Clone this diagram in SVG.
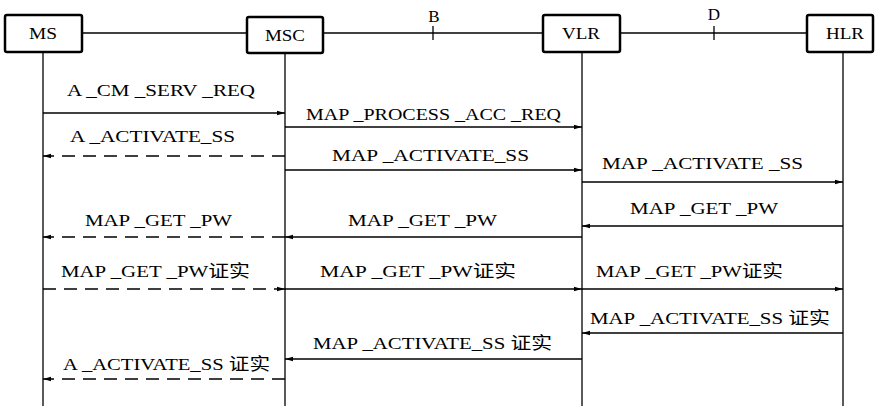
<svg xmlns="http://www.w3.org/2000/svg" width="875" height="406" viewBox="0 0 875 406">
<style>
.box{fill:#fff;stroke:#000;stroke-width:2.5}
.life{stroke:#000;stroke-width:1.3;fill:none}
.msg{stroke:#000;stroke-width:1.3;fill:none}
.dash{stroke-dasharray:13 8}
text{font-family:"Liberation Serif","Noto Sans CJK SC",serif;font-size:17px;fill:#000}
.lbl{text-anchor:middle}
</style>
<defs>
<marker id="ah" viewBox="0 0 8 6" refX="8" refY="3" markerWidth="8" markerHeight="6" markerUnits="userSpaceOnUse" orient="auto">
<path d="M0,0.8 L8,3 L0,5.2 Z" fill="#000"/>
</marker>
</defs>
<g id="lifelines">
<line class="life" x1="43" y1="52" x2="43" y2="406"/>
<line class="life" x1="285" y1="52" x2="285" y2="406"/>
<line class="life" x1="582" y1="52" x2="582" y2="406"/>
<line class="life" x1="843" y1="52" x2="843" y2="406"/>
</g>
<g id="interfaces">
<line class="life" x1="82" y1="33" x2="247" y2="33"/>
<line class="life" x1="323" y1="33" x2="543" y2="33"/>
<line class="life" x1="433" y1="26" x2="433" y2="40"/>
<text class="lbl" x="434" y="22">B</text>
<line class="life" x1="620" y1="33" x2="807" y2="33"/>
<line class="life" x1="714" y1="26" x2="714" y2="40"/>
<text class="lbl" x="714" y="20">D</text>
</g>
<g id="MS"><rect class="box" x="5" y="15" width="77" height="37" rx="2"/><text class="lbl" x="43" y="39" textLength="28" lengthAdjust="spacingAndGlyphs">MS</text></g>
<g id="MSC"><rect class="box" x="247" y="17" width="76" height="36" rx="2"/><text class="lbl" x="285" y="41" textLength="40" lengthAdjust="spacingAndGlyphs">MSC</text></g>
<g id="VLR"><rect class="box" x="543" y="15" width="77" height="37" rx="2"/><text class="lbl" x="581" y="39" textLength="38" lengthAdjust="spacingAndGlyphs">VLR</text></g>
<g id="HLR"><rect class="box" x="807" y="15" width="66" height="37" rx="2"/><text class="lbl" x="845" y="39" textLength="38" lengthAdjust="spacingAndGlyphs">HLR</text></g>
<g id="connectors">
<line class="msg" x1="43" y1="113" x2="285" y2="113" marker-end="url(#ah)"/>
<line class="msg" x1="285" y1="127" x2="582" y2="127" marker-end="url(#ah)"/>
<line class="msg dash" x1="285" y1="156" x2="43" y2="156" marker-end="url(#ah)"/>
<line class="msg" x1="285" y1="170" x2="582" y2="170" marker-end="url(#ah)"/>
<line class="msg" x1="582" y1="182" x2="843" y2="182" marker-end="url(#ah)"/>
<line class="msg" x1="843" y1="226" x2="582" y2="226" marker-end="url(#ah)"/>
<line class="msg" x1="582" y1="237" x2="285" y2="237" marker-end="url(#ah)"/>
<line class="msg dash" x1="285" y1="237" x2="43" y2="237" marker-end="url(#ah)"/>
<line class="msg dash" x1="43" y1="289" x2="285" y2="289" marker-end="url(#ah)"/>
<line class="msg" x1="285" y1="289" x2="582" y2="289" marker-end="url(#ah)"/>
<line class="msg" x1="582" y1="289" x2="843" y2="289" marker-end="url(#ah)"/>
<line class="msg" x1="843" y1="333" x2="582" y2="333" marker-end="url(#ah)"/>
<line class="msg" x1="582" y1="359" x2="285" y2="359" marker-end="url(#ah)"/>
<line class="msg dash" x1="285" y1="379" x2="43" y2="379" marker-end="url(#ah)"/>
</g>
<g id="labels">
<text x="67" y="96" textLength="188" lengthAdjust="spacingAndGlyphs">A _CM _SERV _REQ</text>
<text x="306" y="120" textLength="255" lengthAdjust="spacingAndGlyphs">MAP _PROCESS _ACC _REQ</text>
<text x="70" y="142" textLength="165" lengthAdjust="spacingAndGlyphs">A _ACTIVATE_SS</text>
<text x="332" y="161" textLength="197" lengthAdjust="spacingAndGlyphs">MAP _ACTIVATE_SS</text>
<text x="602" y="169" textLength="201" lengthAdjust="spacingAndGlyphs">MAP _ACTIVATE _SS</text>
<text x="630" y="214" textLength="148" lengthAdjust="spacingAndGlyphs">MAP _GET _PW</text>
<text x="348" y="226" textLength="149" lengthAdjust="spacingAndGlyphs">MAP _GET _PW</text>
<text x="85" y="226" textLength="147" lengthAdjust="spacingAndGlyphs">MAP _GET _PW</text>
<text x="61" y="277" textLength="189" lengthAdjust="spacingAndGlyphs">MAP _GET _PW证实</text>
<text x="320" y="277" textLength="196" lengthAdjust="spacingAndGlyphs">MAP _GET _PW证实</text>
<text x="596" y="277" textLength="187" lengthAdjust="spacingAndGlyphs">MAP _GET _PW证实</text>
<text x="590" y="324" textLength="240" lengthAdjust="spacingAndGlyphs">MAP _ACTIVATE_SS 证实</text>
<text x="313" y="349" textLength="239" lengthAdjust="spacingAndGlyphs">MAP _ACTIVATE_SS 证实</text>
<text x="63" y="370" textLength="207" lengthAdjust="spacingAndGlyphs">A _ACTIVATE_SS 证实</text>
</g>
</svg>
